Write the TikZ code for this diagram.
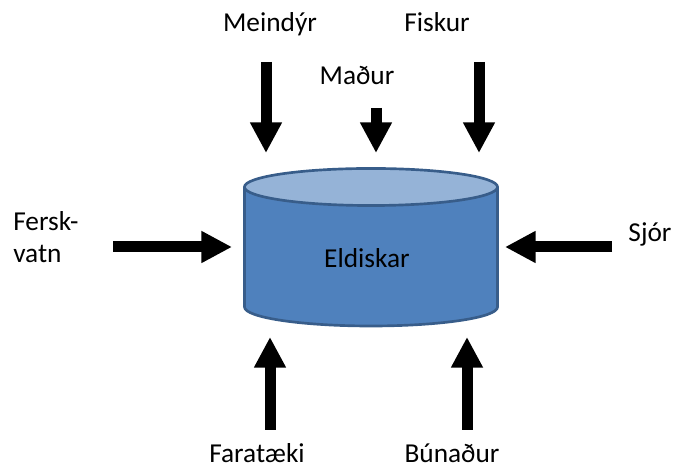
\documentclass[tikz,border=0pt]{standalone}
\usepackage{fontspec}
\setmainfont{Carlito}
\usetikzlibrary{arrows.meta}

\tikzset{
  lbl/.style={font=\fontsize{20.5}{24}\selectfont, inner sep=0pt, text=black},
  blockarrow/.style={line width=8.25pt, -{Triangle[width=22.5pt,length=23pt]}},
  tankline/.style={draw=ctankline, line width=2pt}
}

\begin{document}
\begin{tikzpicture}[x=0.75pt,y=0.75pt]
\definecolor{ctankbody}{rgb}{0.31,0.506,0.741}
\definecolor{ctanktop}{rgb}{0.584,0.702,0.843}
\definecolor{ctankline}{rgb}{0.22,0.365,0.541}
\useasboundingbox (0,0) rectangle (675,470);
%
\draw[tankline, fill=ctankbody] (244.5,283) -- (244.5,163)
  arc[start angle=180, end angle=360, x radius=94.9pt, y radius=14.25pt] -- (497.5,283);
\draw[tankline, fill=ctanktop] (371,283) ellipse [x radius=94.9pt, y radius=13.9pt];
\node[lbl, anchor=base] (tank) at (367,202) {Eldiskar};
%
\node[lbl, anchor=base] (meindyr) at (270,438) {Meindýr};
\node[lbl, anchor=base] (madur) at (357,385) {Maður};
\node[lbl, anchor=base] (fiskur) at (437,438) {Fiskur};
\node[lbl, anchor=west, align=left] (ferskvatn) at (13,233) {Fersk-\\vatn};
\node[lbl, anchor=base] (sjor) at (650,228) {Sjór};
\node[lbl, anchor=base] (faratæki) at (257,7) {Faratæki};
\node[lbl, anchor=base] (bunadur) at (452,7) {Búnaður};
%
\coordinate (meindyr-s) at (266,408);
\coordinate (meindyr-e) at (266,317);
\coordinate (madur-s) at (376,362);
\coordinate (madur-e) at (376,317);
\coordinate (fiskur-s) at (479,408);
\coordinate (fiskur-e) at (479,317);
\coordinate (ferskvatn-s) at (113,223);
\coordinate (ferskvatn-e) at (232,223);
\coordinate (sjor-s) at (612,223);
\coordinate (sjor-e) at (505,223);
\coordinate (faratæki-s) at (270,40);
\coordinate (faratæki-e) at (270,133);
\coordinate (bunadur-s) at (467,40);
\coordinate (bunadur-e) at (467,133);
%
\draw[blockarrow] (meindyr-s) -- (meindyr-e);
\draw[blockarrow] (madur-s) -- (madur-e);
\draw[blockarrow] (fiskur-s) -- (fiskur-e);
\draw[blockarrow] (ferskvatn-s) -- (ferskvatn-e);
\draw[blockarrow] (sjor-s) -- (sjor-e);
\draw[blockarrow] (faratæki-s) -- (faratæki-e);
\draw[blockarrow] (bunadur-s) -- (bunadur-e);
%
\end{tikzpicture}
\end{document}
